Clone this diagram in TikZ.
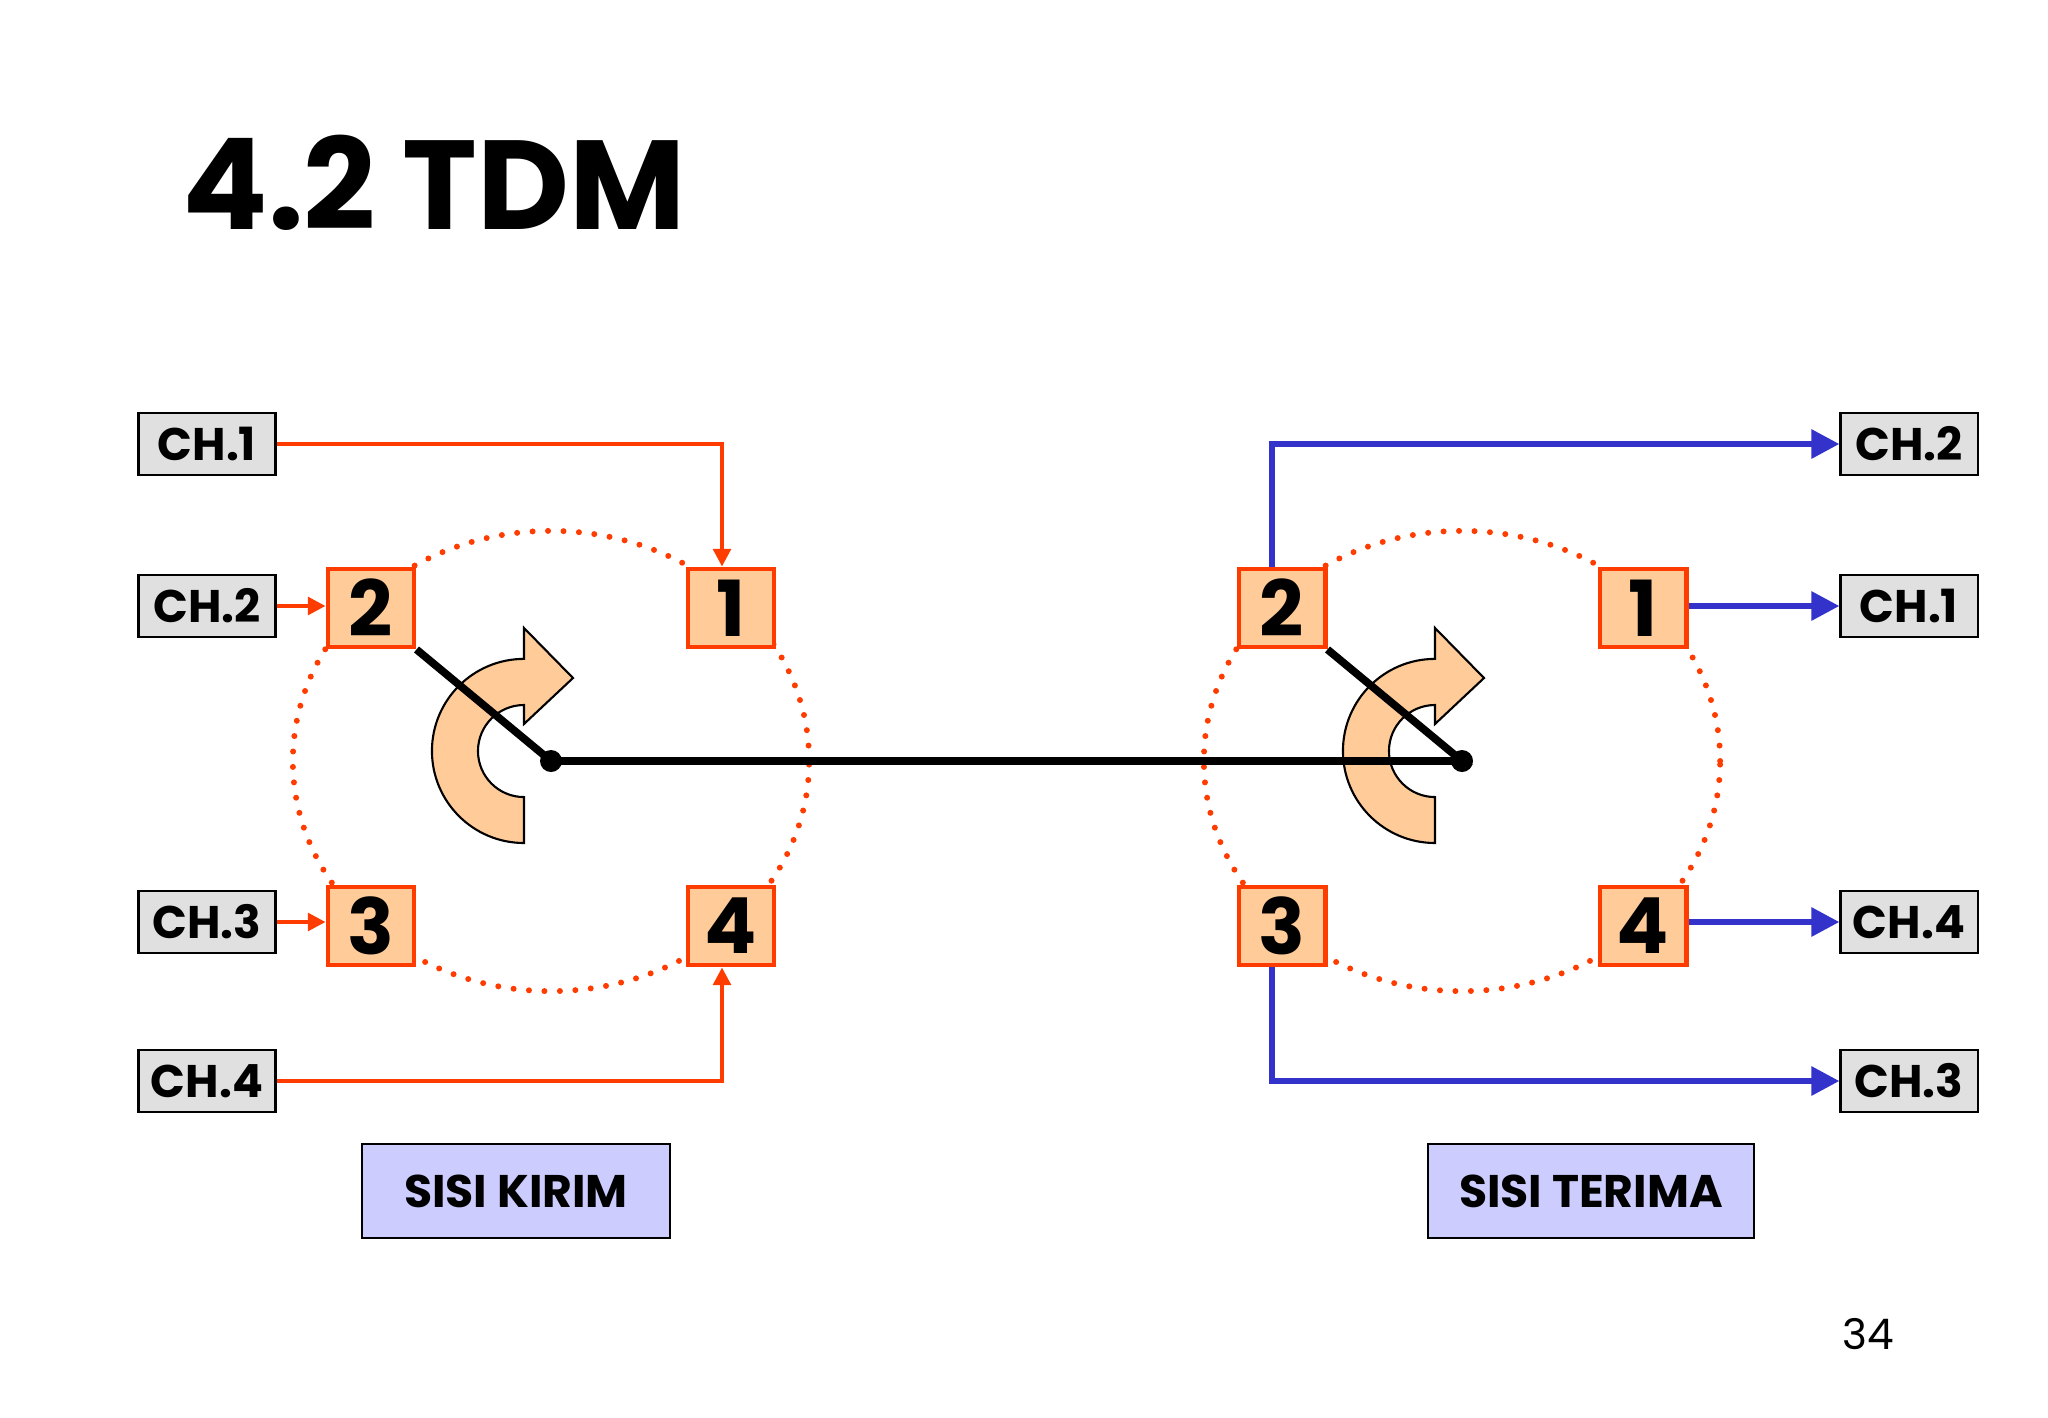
\documentclass[tikz,border=0pt]{standalone}
\usepackage{fontspec}
\setmainfont{Poppins}
\usetikzlibrary{arrows.meta}
\definecolor{rd}{RGB}{255,60,0}
\definecolor{bl}{RGB}{51,51,204}
\definecolor{org}{RGB}{255,204,153}
\definecolor{chg}{RGB}{224,224,224}
\definecolor{lav}{RGB}{204,204,255}
\begin{document}
\begin{tikzpicture}[x=0.01cm,y=-0.01cm,
 ch/.style={draw=black,fill=chg,line width=0.6pt,minimum width=1.37cm,minimum height=0.62cm,inner sep=0pt,font=\fontsize{13}{13}\selectfont\bfseries},
 sl/.style={draw=rd,fill=org,line width=1.4pt,minimum width=0.86cm,minimum height=0.78cm,inner sep=0pt,font=\fontsize{22}{22}\selectfont\bfseries},
 lab/.style={draw=black,fill=lav,line width=0.6pt,minimum width=3.08cm,minimum height=0.94cm,inner sep=0pt,font=\fontsize{13}{13}\selectfont\bfseries},
 ra/.style={rd,line width=1.1pt,-{Triangle[length=5pt,width=5pt]}},
 ba/.style={bl,line width=1.7pt,-{Triangle[length=8pt,width=8pt]}},
 dots/.style={rd,line width=1.7pt,line cap=round,dash pattern=on 0pt off 4.4pt},
 rot/.style={draw=black,fill=org,line width=0.6pt}]
\useasboundingbox[fill=white] (0,0) rectangle (2048,1418);
\node[anchor=west,font=\fontsize{36}{36}\selectfont\bfseries] (title) at (170,183) {4.2 TDM};
\node[font=\fontsize{12}{12}\selectfont] (pg) at (1868,1334) {34};
\coordinate (lc) at (551,761);
\coordinate (rc) at (1462,761);
\draw[dots] (lc) ellipse [x radius=2.58cm,y radius=2.30cm];
\draw[dots] (rc) ellipse [x radius=2.58cm,y radius=2.30cm];
\foreach \dx in {0,911}{
 \draw[rot] (524+\dx,843) arc[start angle=-90,end angle=-270,radius=0.92cm] -- (524+\dx,628) -- (573+\dx,678) -- (524+\dx,724) -- (524+\dx,705) arc[start angle=90,end angle=270,radius=0.46cm] -- cycle;
}
\node[ch] (l1) at (207,444) {CH.1};
\node[ch] (l2) at (207,606) {CH.2};
\node[ch] (l3) at (207,922) {CH.3};
\node[ch] (l4) at (207,1081) {CH.4};
\node[sl] (a2) at (371,608) {2};
\node[sl] (a1) at (731,608) {1};
\node[sl] (a3) at (371,926) {3};
\node[sl] (a4) at (731,926) {4};
\node[sl] (b2) at (1282,608) {2};
\node[sl] (b1) at (1643,608) {1};
\node[sl] (b3) at (1282,926) {3};
\node[sl] (b4) at (1643,926) {4};
\node[ch] (r2) at (1909,444) {CH.2};
\node[ch] (r1) at (1909,606) {CH.1};
\node[ch] (r4) at (1909,922) {CH.4};
\node[ch] (r3) at (1909,1081) {CH.3};
\node[lab] (k) at (516,1191) {SISI KIRIM};
\node[lab,minimum width=3.25cm] (t) at (1591,1191) {SISI TERIMA};
\draw[ra] (l1.east) -| ([xshift=-0.09cm]a1.north);
\draw[ra] (l2.east) -- (l2.east -| a2.west);
\draw[ra] (l3.east) -- (l3.east -| a3.west);
\draw[ra] (l4.east) -| ([xshift=-0.09cm]a4.south);
\draw[ba] ([xshift=-0.1cm]b2.north) |- (r2.west);
\draw[ba] (r1.west -| b1.east) -- (r1.west);
\draw[ba] (r4.west -| b4.east) -- (r4.west);
\draw[ba] ([xshift=-0.1cm]b3.south) |- (r3.west);
\draw[line width=2.2pt] (a2.south east) -- (lc) -- (rc) -- (b2.south east);
\fill (lc) circle[radius=0.11cm];
\fill (rc) circle[radius=0.11cm];
\end{tikzpicture}
\end{document}
